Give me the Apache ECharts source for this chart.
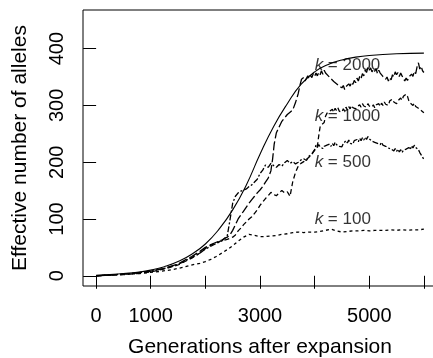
<!DOCTYPE html>
<html>
<head>
<meta charset="utf-8">
<script src="https://cdn.jsdelivr.net/npm/echarts@6/dist/echarts.min.js"></script>
<style>
html, body { margin: 0; padding: 0; background: #fff; }
#main { width: 433px; height: 358px; }
</style>
</head>
<body>
<div id="main"></div>
<script>
//tick positions and labels
var xTicks = [0, 1000, 2000, 3000, 4000, 5000, 6000];
var xLabels = [0, 1000, 3000, 5000];
var yTicks = [0, 100, 200, 300, 400];

//deterministic expectation (solid)
var expected = [[0,1],[250,2],[500,4],[750,6],[1000,10],[1250,16],[1500,25],[1750,38],[2000,56],[2250,82],[2500,116],[2750,160],[3000,214],[3250,263],[3500,303],[3750,337],[4000,359],[4250,372],[4500,380],[4750,385],[5000,388],[5500,391],[6000,392]];

//simulations
var k100 = [[0,0],[200,1],[400,2],[600,3],[800,4],[1000,6],[1200,8],[1400,11],[1600,15],[1800,20],[1900,22],[2000,25],[2100,29],[2200,34],[2300,40],[2400,46],[2500,53],[2600,61],[2700,68],[2800,73],[2900,71],[3000,69],[3100,69],[3200,70],[3300,71],[3400,73],[3500,74],[3600,76],[3700,77],[3800,76],[3900,77],[4000,77],[4100,78],[4200,80],[4300,82],[4400,79],[4500,77],[4600,78],[4700,79],[4800,79],[4900,80],[5000,79],[5100,80],[5200,80],[5300,80],[5400,81],[5500,80],[5600,81],[5700,80],[5800,81],[5900,81],[6000,82]];

var k500 = [[0,0],[250,1],[500,3],[750,5],[1000,8],[1250,13],[1500,20],[1750,32],[1900,40],[2000,47],[2100,52],[2200,57],[2300,61],[2350,66],[2400,70],[2450,98],[2500,128],[2550,140],[2600,146],[2650,149],[2700,151],[2750,153],[2800,157],[2850,160],[2900,165],[2950,170],[3000,180],[3050,186],[3100,195],[3150,191],[3200,198],[3250,194],[3300,191],[3350,196],[3400,193],[3450,199],[3500,203],[3550,198],[3600,201],[3650,197],[3700,200],[3750,204],[3800,206],[3850,203],[3900,211],[3950,214],
  [4000,222],[4025,230],[4050,226],[4075,231],[4100,227],[4125,230],[4150,224],[4175,228],[4200,225],[4225,230],[4250,227],[4275,232],[4300,228],[4325,233],[4350,229],[4375,235],[4400,231],[4425,234],[4450,228],[4475,231],[4500,227],[4525,233],[4550,230],[4575,238],[4600,234],[4625,239],[4650,233],[4675,236],[4700,232],[4725,238],[4750,235],[4775,240],[4800,236],[4825,242],[4850,238],[4875,243],[4900,239],[4925,244],[4950,240],[4975,245],
  [5000,241],[5025,243],[5050,237],[5075,240],[5100,235],[5125,238],[5150,233],[5175,236],[5200,231],[5225,235],[5250,230],[5275,233],[5300,228],[5325,231],[5350,225],[5375,228],[5400,223],[5425,226],[5450,220],[5475,224],[5500,219],[5525,223],[5550,218],[5575,222],[5600,217],[5625,221],[5650,218],[5675,223],[5700,220],[5725,226],[5750,222],[5775,229],[5800,225],[5825,230],[5850,226],[5875,228],[5900,222],[5925,217],[5950,213],[5975,210],[6000,205]];

var k1000 = [[0,0],[250,1],[500,2],[750,4],[1000,7],[1250,12],[1500,19],[1750,31],[1900,40],[2000,48],[2100,54],[2200,58],[2300,62],[2400,64],[2450,66],[2500,68],[2550,72],[2600,79],[2650,84],[2700,90],[2750,95],[2800,100],[2850,104],[2900,110],[2950,116],[3000,124],[3050,130],[3100,136],[3150,141],[3200,147],[3250,143],[3300,141],[3350,146],[3400,150],[3450,146],[3500,148],[3550,140],[3600,166],[3650,182],[3700,193],[3750,198],[3800,201],[3850,205],[3900,209],[3950,215],[4000,221],[4050,228],[4080,250],
  [4100,262],[4125,266],[4150,263],[4175,270],[4200,281],[4225,286],[4250,283],[4275,290],[4300,287],[4325,293],[4350,288],[4375,295],[4400,291],[4425,296],[4450,290],[4475,293],[4500,288],[4525,294],[4550,290],[4575,297],[4600,292],[4625,298],[4650,294],[4675,300],[4700,296],[4725,299],[4750,294],[4775,298],[4800,295],[4825,301],[4850,297],[4875,303],[4900,299],[4925,302],[4950,297],[4975,303],
  [5000,299],[5025,302],[5050,297],[5075,301],[5100,296],[5125,301],[5150,298],[5175,303],[5200,298],[5225,304],[5250,300],[5275,306],[5300,302],[5325,305],[5350,300],[5375,308],[5400,305],[5425,311],[5450,306],[5475,309],[5500,303],[5525,308],[5550,306],[5575,313],[5600,309],[5625,316],[5650,313],[5675,320],[5700,316],[5725,308],[5750,304],[5775,306],[5800,300],[5825,304],[5850,298],[5875,301],[5900,295],[5925,297],[5950,291],[5975,293],[6000,287]];

var k2000 = [[0,0],[250,1],[500,3],[750,5],[1000,8],[1250,13],[1500,21],[1750,34],[1900,43],[2000,50],[2100,55],[2200,59],[2300,63],[2400,68],[2450,72],[2500,80],[2550,90],[2600,100],[2650,107],[2700,114],[2750,121],[2800,128],[2850,134],[2900,140],[2950,146],[3000,151],[3050,157],[3100,165],[3150,172],[3200,185],[3230,205],[3260,232],[3300,252],[3350,262],[3400,272],[3450,278],[3500,284],[3550,288],[3600,292],[3650,305],[3700,321],[3730,335],[3760,346],
  [3775,344],[3800,349],[3825,343],[3850,346],[3875,352],[3900,347],[3925,353],[3950,349],[3975,356],[4000,351],[4025,357],[4050,352],[4075,358],[4100,354],[4125,361],[4150,355],[4175,362],[4200,357],[4225,359],[4250,352],[4275,355],[4300,347],[4325,350],[4350,342],[4375,345],[4400,338],[4425,341],[4450,334],[4475,337],[4500,331],[4525,335],[4550,328],[4575,333],[4600,331],[4625,338],[4650,334],[4675,341],[4700,337],[4725,344],[4750,340],[4775,348],[4800,343],[4825,351],[4850,347],[4875,356],[4900,352],[4925,362],[4950,358],[4975,367],
  [5000,362],[5025,366],[5050,359],[5075,364],[5100,360],[5125,365],[5150,356],[5175,362],[5200,357],[5225,359],[5250,351],[5275,354],[5300,346],[5325,350],[5350,343],[5375,349],[5400,345],[5425,354],[5450,350],[5475,359],[5500,354],[5525,358],[5550,351],[5575,357],[5600,352],[5625,349],[5650,343],[5675,348],[5700,344],[5725,350],[5750,347],[5775,355],[5800,351],[5825,360],[5850,356],[5875,368],[5900,375],[5925,364],[5950,369],[5975,361],[6000,358]];

//curve labels (text placed at x=4000, left aligned)
var labelK = [2000, 1000, 500, 100];
var labelPos = [[4000,370],[4000,280],[4000,200],[4000,100]];

var font = 'Liberation Sans, Arial, Helvetica, sans-serif';

function simLine(name, data, dash) {
    return {
        name: name,
        type: 'line',
        data: data,
        symbol: 'none',
        lineStyle: { color: '#000', width: 1.3, type: dash },
        animation: false
    };
}

var chart = echarts.init(document.getElementById('main'));
chart.setOption({
    backgroundColor: '#fff',
    animation: false,
    //box runs past the right edge like the original, so no outer bounds
    grid: {
        left: 83, top: 10, width: 354, height: 276, outerBoundsMode: 'none',
        show: true, borderColor: '#000', borderWidth: 1
    },
    xAxis: {
        type: 'value', min: -240, max: 6240,
        axisLine: { show: false },
        splitLine: { show: false },
        axisTick: { show: true, length: 13, customValues: xTicks, lineStyle: { color: '#000' } },
        axisLabel: {
            customValues: xLabels, margin: 20, fontSize: 20, color: '#000', fontFamily: font,
            formatter: function (v) { return String(v); }
        },
        name: 'Generations after expansion',
        nameLocation: 'middle', nameGap: 51,
        nameTextStyle: { fontSize: 21, color: '#000', fontFamily: font }
    },
    yAxis: {
        type: 'value', min: -18, max: 468,
        axisLine: { show: false },
        splitLine: { show: false },
        axisTick: { show: true, length: 13, customValues: yTicks, lineStyle: { color: '#000' } },
        axisLabel: {
            customValues: yTicks, rotate: 90, margin: 16, fontSize: 20, color: '#000', fontFamily: font,
            formatter: function (v) { return String(v); }
        },
        name: 'Effective number of alleles',
        nameLocation: 'middle', nameGap: 52,
        nameTextStyle: { fontSize: 21, color: '#000', fontFamily: font }
    },
    series: [
        {
            type: 'line', data: expected, symbol: 'none', smooth: true,
            lineStyle: { color: '#000', width: 1.1 }
        },
        simLine('k100', k100, [3, 3]),
        simLine('k500', k500, [6, 2, 2, 2]),
        simLine('k1000', k1000, [5, 3]),
        simLine('k2000', k2000, [9, 3]),
        {
            type: 'scatter', data: labelPos, symbolSize: 0, silent: true,
            label: {
                show: true, position: 'right', distance: 0,
                fontSize: 17, color: '#000', fontFamily: font,
                formatter: function (p) { return '{i|k} = ' + labelK[p.dataIndex]; },
                rich: { i: { fontStyle: 'italic', fontSize: 17, color: '#000', fontFamily: font } }
            }
        }
    ]
});
</script>
</body>
</html>
